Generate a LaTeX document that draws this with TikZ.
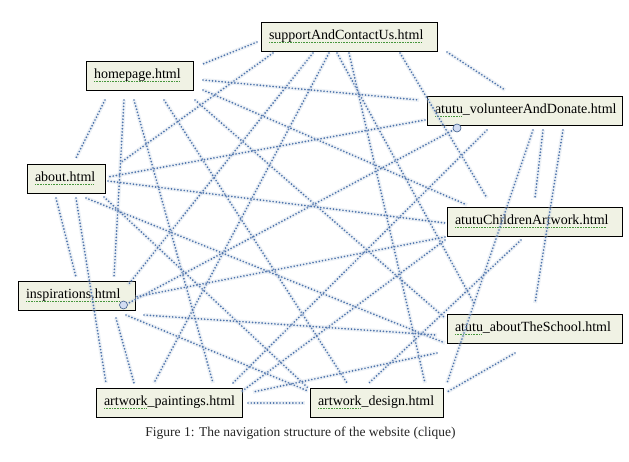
\documentclass[tikz,border=0pt]{standalone}
\usepackage{fontspec}
\setmainfont{Liberation Serif}
\usetikzlibrary{shadows}
\definecolor{boxfill}{RGB}{240,242,228}
\definecolor{linkblue}{RGB}{78,116,172}
\definecolor{sqgreen}{RGB}{70,150,60}
\definecolor{handlefill}{RGB}{210,220,242}
\newsavebox\sqbox
\newcommand{\sq}[1]{\sbox\sqbox{#1}\leavevmode\rlap{\textcolor{sqgreen}{\raisebox{-2.8pt}{\hbox to \wd\sqbox{\leaders\hbox{\rule{0.9pt}{0.8pt}\kern0.7pt}\hfil}}}}\usebox\sqbox}
\newcommand{\lbl}[2]{\makebox[#1][l]{#2}}
\begin{document}
\begin{tikzpicture}[x=1pt,y=-1pt,
  pagebox/.style={draw=black, line width=0.8pt, fill=boxfill, minimum height=29pt,
    inner xsep=8pt, inner ysep=0pt, font=\fontsize{14}{16}\selectfont,
    drop shadow={shadow xshift=1.3pt, shadow yshift=-1.3pt, opacity=0.35, fill=black}},
  link/.style={draw=linkblue, line width=1.9pt, line cap=round, dash pattern=on 0pt off 3.2pt,
    preaction={draw=linkblue!35, line width=4pt, opacity=0.28, solid}},
  handle/.style={draw=linkblue!80!black, fill=handlefill, line width=0.6pt}
]
\useasboundingbox (0,0) rectangle (629,462);
\fill[white] (0,0) rectangle (629,462);

\node[pagebox] (S) at (349,36.5) {\lbl{160pt}{\sq{supportAndContactUs.html}}};
\node[pagebox] (H) at (139.5,75.5) {\lbl{91pt}{\sq{homepage.html}}};
\node[pagebox] (V) at (524.5,110.5) {\lbl{179pt}{\sq{atutu}\_volunteerAndDonate.html}};
\node[pagebox] (A) at (66,178.5) {\lbl{62pt}{\sq{about.html}}};
\node[pagebox] (C) at (534.5,221.5) {\lbl{159pt}{\sq{atutuChildrenArtwork.html}}};
\node[pagebox] (I) at (76.5,295.5) {\lbl{101pt}{\sq{inspirations.html}}};
\node[pagebox] (T) at (534.5,328.5) {\lbl{159pt}{\sq{atutu}\_aboutTheSchool.html}};
\node[pagebox] (P) at (169,402.5) {\lbl{130pt}{\sq{artwork}\_paintings.html}};
\node[pagebox] (D) at (376.5,402.5) {\lbl{117pt}{\sq{artwork}\_design.html}};

\node[font=\fontsize{13.5}{16}\selectfont, text=black!85] (cap) at (300.5,433)
  {Figure 1: The navigation structure of the website (clique)};

\draw[link] ([shift={(-92,5.5)}]S.center) -- ([shift={(63.5,-11.5)}]H.center);
\draw[link] ([shift={(98,15.5)}]S.center) -- ([shift={(-19.5,-20.5)}]V.center);
\draw[link] ([shift={(-76,16.5)}]S.center) -- ([shift={(54,-15.5)}]A.center);
\draw[link] ([shift={(-36,16.5)}]S.center) -- ([shift={(51.5,-10.5)}]I.center);
\draw[link] ([shift={(-20,16.5)}]S.center) -- ([shift={(-15,-19.5)}]P.center);
\draw[link] ([shift={(-12,16.5)}]S.center) -- ([shift={(-59.5,-23.5)}]T.center);
\draw[link] ([shift={(0,16.5)}]S.center) -- ([shift={(48.5,-19.5)}]D.center);
\draw[link] ([shift={(51,16.5)}]S.center) -- ([shift={(-47.5,-23.5)}]C.center);
\draw[link] ([shift={(63.5,4.5)}]H.center) -- ([shift={(-105.5,-10.5)}]V.center);
\draw[link] ([shift={(63.5,14.5)}]H.center) -- ([shift={(-67.5,-16.5)}]C.center);
\draw[link] ([shift={(-34.5,24.5)}]H.center) -- ([shift={(10,-20.5)}]A.center);
\draw[link] ([shift={(-15.5,24.5)}]H.center) -- ([shift={(37.5,-18.5)}]I.center);
\draw[link] ([shift={(-5.5,24.5)}]H.center) -- ([shift={(44,-19.5)}]P.center);
\draw[link] ([shift={(24.5,24.5)}]H.center) -- ([shift={(-29.5,-19.5)}]D.center);
\draw[link] ([shift={(55.5,24.5)}]H.center) -- ([shift={(-89.5,-10.5)}]T.center);
\draw[link] ([shift={(-99.5,9.5)}]V.center) -- ([shift={(42,-1.5)}]A.center);
\draw[link] ([shift={(-67.5,17.5)}]V.center) -- ([shift={(48.5,9.5)}]I.center);
\draw[link] ([shift={(18.5,19.5)}]V.center) -- ([shift={(0.5,-23.5)}]C.center);
\draw[link] ([shift={(38.5,19.5)}]V.center) -- ([shift={(0.5,-25.5)}]T.center);
\draw[link] ([shift={(8.5,19.5)}]V.center) -- ([shift={(70.5,-19.5)}]D.center);
\draw[link] ([shift={(-37.5,19.5)}]V.center) -- ([shift={(64,-19.5)}]P.center);
\draw[link] ([shift={(42,2.5)}]A.center) -- ([shift={(-89.5,1.5)}]C.center);
\draw[link] ([shift={(-10,19.5)}]A.center) -- ([shift={(-0.5,-18.5)}]I.center);
\draw[link] ([shift={(10,19.5)}]A.center) -- ([shift={(-63,-19.5)}]P.center);
\draw[link] ([shift={(20,19.5)}]A.center) -- ([shift={(-89.5,14.5)}]T.center);
\draw[link] ([shift={(38,18.5)}]A.center) -- ([shift={(-68.5,-14.5)}]D.center);
\draw[link] ([shift={(-89.5,15.5)}]C.center) -- ([shift={(58.5,1.5)}]I.center);
\draw[link] ([shift={(-89.5,18.5)}]C.center) -- ([shift={(72,-10.5)}]P.center);
\draw[link] ([shift={(-13.5,18.5)}]C.center) -- ([shift={(-7.5,-19.5)}]D.center);
\draw[link] ([shift={(67.5,19.5)}]I.center) -- ([shift={(-97.5,6.5)}]T.center);
\draw[link] ([shift={(39.5,22.5)}]I.center) -- ([shift={(-35,-19.5)}]P.center);
\draw[link] ([shift={(49.5,19.5)}]I.center) -- ([shift={(-68.5,-11.5)}]D.center);
\draw[link] ([shift={(-97.5,24.5)}]T.center) -- ([shift={(84,-10.5)}]P.center);
\draw[link] ([shift={(-19.5,24.5)}]T.center) -- ([shift={(70.5,-10.5)}]D.center);
\draw[link] ([shift={(79,0.5)}]P.center) -- ([shift={(-71.5,0.5)}]D.center);

\draw[handle] ([shift={(-67.5,17.5)}]V.center) circle (4pt);
\draw[handle] ([shift={(47,9.5)}]I.center) circle (4pt);
\end{tikzpicture}
\end{document}
